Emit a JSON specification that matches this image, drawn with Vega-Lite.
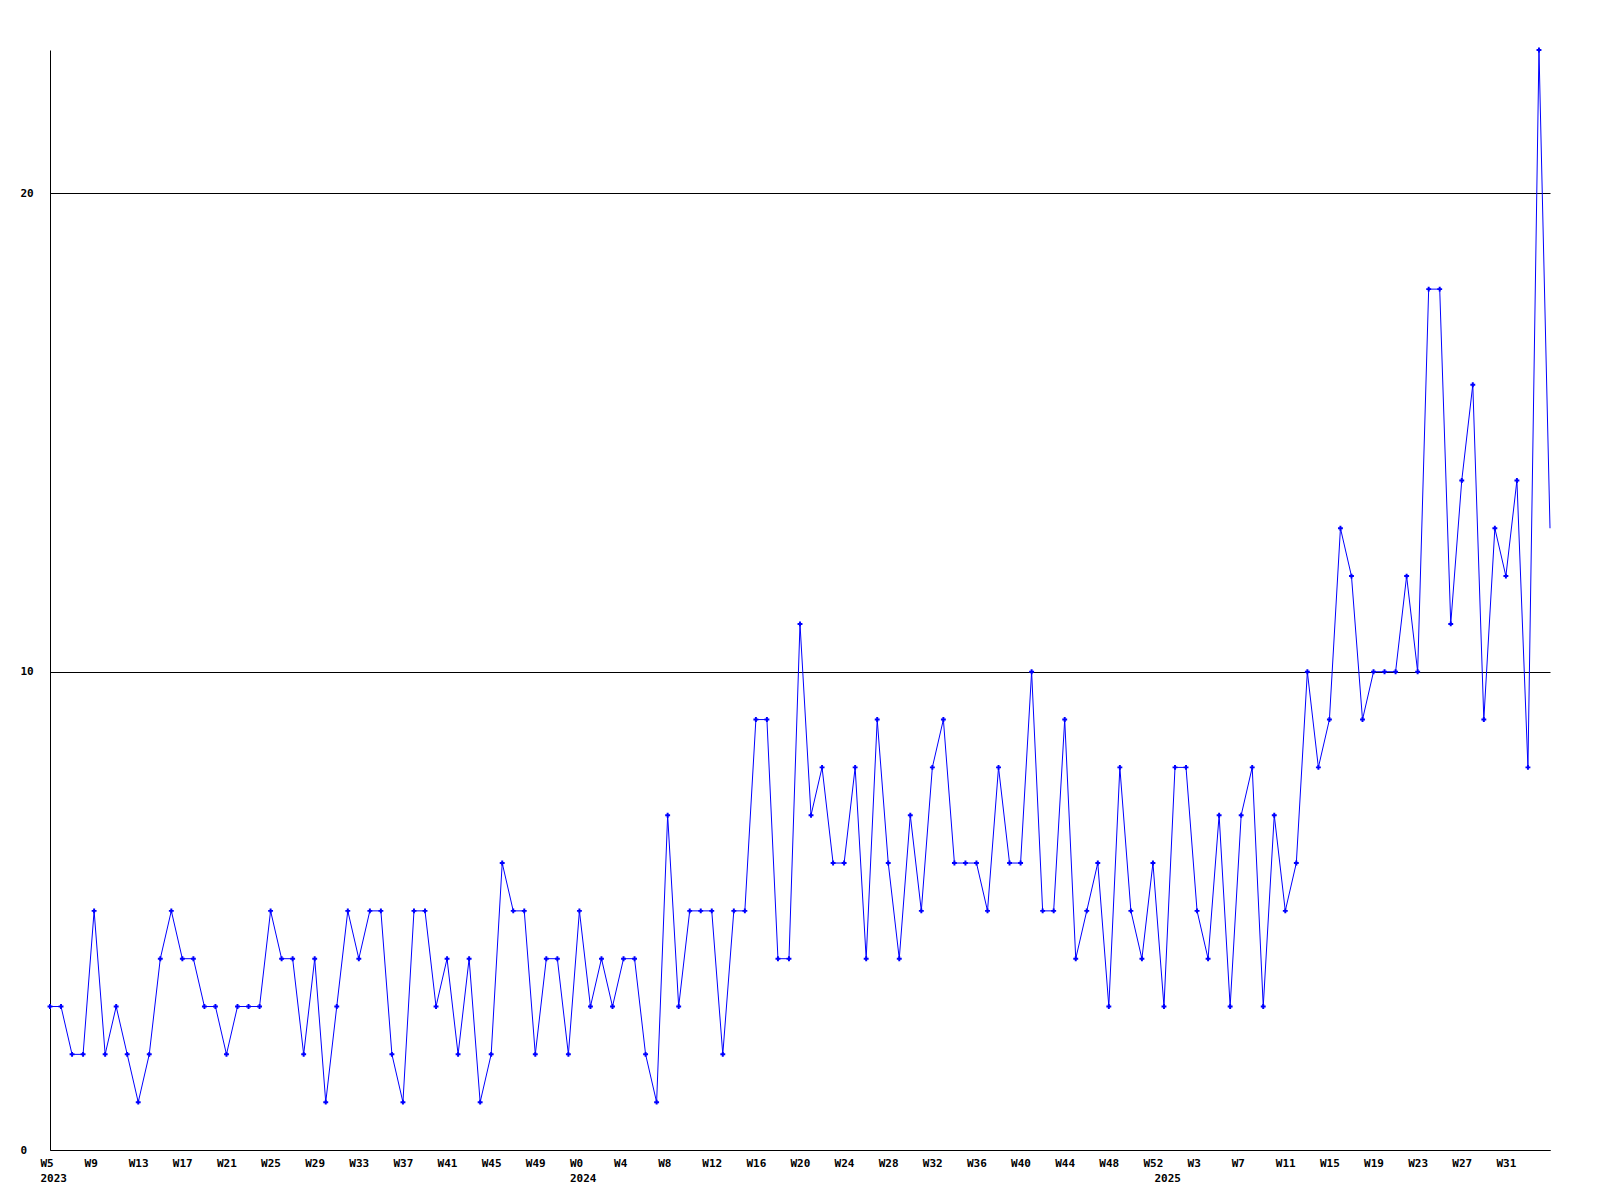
{
  "$schema": "https://vega.github.io/schema/vega-lite/v6.json",
  "width": 1500,
  "height": 1100,
  "autosize": {"type": "none"},
  "padding": {"left": 50, "top": 50, "right": 50, "bottom": 50},
  "background": "white",
  "config": {
    "view": {"stroke": null},
    "axis": {
      "labelFont": "DejaVu Sans Mono",
      "labelFontWeight": "bold",
      "labelFontSize": 11,
      "labelColor": "black",
      "domainColor": "black",
      "domainWidth": 1,
      "gridColor": "black",
      "gridOpacity": 1,
      "gridWidth": 1,
      "ticks": false,
      "tickSize": 0,
      "title": null
    }
  },
  "data": {
    "values": [
      {"week": "2023 W5", "count": 3}, {"week": "2023 W6", "count": 3}, {"week": "2023 W7", "count": 2}, {"week": "2023 W8", "count": 2},
      {"week": "2023 W9", "count": 5}, {"week": "2023 W10", "count": 2}, {"week": "2023 W11", "count": 3}, {"week": "2023 W12", "count": 2},
      {"week": "2023 W13", "count": 1}, {"week": "2023 W14", "count": 2}, {"week": "2023 W15", "count": 4}, {"week": "2023 W16", "count": 5},
      {"week": "2023 W17", "count": 4}, {"week": "2023 W18", "count": 4}, {"week": "2023 W19", "count": 3}, {"week": "2023 W20", "count": 3},
      {"week": "2023 W21", "count": 2}, {"week": "2023 W22", "count": 3}, {"week": "2023 W23", "count": 3}, {"week": "2023 W24", "count": 3},
      {"week": "2023 W25", "count": 5}, {"week": "2023 W26", "count": 4}, {"week": "2023 W27", "count": 4}, {"week": "2023 W28", "count": 2},
      {"week": "2023 W29", "count": 4}, {"week": "2023 W30", "count": 1}, {"week": "2023 W31", "count": 3}, {"week": "2023 W32", "count": 5},
      {"week": "2023 W33", "count": 4}, {"week": "2023 W34", "count": 5}, {"week": "2023 W35", "count": 5}, {"week": "2023 W36", "count": 2},
      {"week": "2023 W37", "count": 1}, {"week": "2023 W38", "count": 5}, {"week": "2023 W39", "count": 5}, {"week": "2023 W40", "count": 3},
      {"week": "2023 W41", "count": 4}, {"week": "2023 W42", "count": 2}, {"week": "2023 W43", "count": 4}, {"week": "2023 W44", "count": 1},
      {"week": "2023 W45", "count": 2}, {"week": "2023 W46", "count": 6}, {"week": "2023 W47", "count": 5}, {"week": "2023 W48", "count": 5},
      {"week": "2023 W49", "count": 2}, {"week": "2023 W50", "count": 4}, {"week": "2023 W51", "count": 4}, {"week": "2023 W52", "count": 2},
      {"week": "2024 W0", "count": 5}, {"week": "2024 W1", "count": 3}, {"week": "2024 W2", "count": 4}, {"week": "2024 W3", "count": 3},
      {"week": "2024 W4", "count": 4}, {"week": "2024 W5", "count": 4}, {"week": "2024 W6", "count": 2}, {"week": "2024 W7", "count": 1},
      {"week": "2024 W8", "count": 7}, {"week": "2024 W9", "count": 3}, {"week": "2024 W10", "count": 5}, {"week": "2024 W11", "count": 5},
      {"week": "2024 W12", "count": 5}, {"week": "2024 W13", "count": 2}, {"week": "2024 W14", "count": 5}, {"week": "2024 W15", "count": 5},
      {"week": "2024 W16", "count": 9}, {"week": "2024 W17", "count": 9}, {"week": "2024 W18", "count": 4}, {"week": "2024 W19", "count": 4},
      {"week": "2024 W20", "count": 11}, {"week": "2024 W21", "count": 7}, {"week": "2024 W22", "count": 8}, {"week": "2024 W23", "count": 6},
      {"week": "2024 W24", "count": 6}, {"week": "2024 W25", "count": 8}, {"week": "2024 W26", "count": 4}, {"week": "2024 W27", "count": 9},
      {"week": "2024 W28", "count": 6}, {"week": "2024 W29", "count": 4}, {"week": "2024 W30", "count": 7}, {"week": "2024 W31", "count": 5},
      {"week": "2024 W32", "count": 8}, {"week": "2024 W33", "count": 9}, {"week": "2024 W34", "count": 6}, {"week": "2024 W35", "count": 6},
      {"week": "2024 W36", "count": 6}, {"week": "2024 W37", "count": 5}, {"week": "2024 W38", "count": 8}, {"week": "2024 W39", "count": 6},
      {"week": "2024 W40", "count": 6}, {"week": "2024 W41", "count": 10}, {"week": "2024 W42", "count": 5}, {"week": "2024 W43", "count": 5},
      {"week": "2024 W44", "count": 9}, {"week": "2024 W45", "count": 4}, {"week": "2024 W46", "count": 5}, {"week": "2024 W47", "count": 6},
      {"week": "2024 W48", "count": 3}, {"week": "2024 W49", "count": 8}, {"week": "2024 W50", "count": 5}, {"week": "2024 W51", "count": 4},
      {"week": "2024 W52", "count": 6},
      {"week": "2025 W0", "count": 3}, {"week": "2025 W1", "count": 8}, {"week": "2025 W2", "count": 8}, {"week": "2025 W3", "count": 5},
      {"week": "2025 W4", "count": 4}, {"week": "2025 W5", "count": 7}, {"week": "2025 W6", "count": 3}, {"week": "2025 W7", "count": 7},
      {"week": "2025 W8", "count": 8}, {"week": "2025 W9", "count": 3}, {"week": "2025 W10", "count": 7}, {"week": "2025 W11", "count": 5},
      {"week": "2025 W12", "count": 6}, {"week": "2025 W13", "count": 10}, {"week": "2025 W14", "count": 8}, {"week": "2025 W15", "count": 9},
      {"week": "2025 W16", "count": 13}, {"week": "2025 W17", "count": 12}, {"week": "2025 W18", "count": 9}, {"week": "2025 W19", "count": 10},
      {"week": "2025 W20", "count": 10}, {"week": "2025 W21", "count": 10}, {"week": "2025 W22", "count": 12}, {"week": "2025 W23", "count": 10},
      {"week": "2025 W24", "count": 18}, {"week": "2025 W25", "count": 18}, {"week": "2025 W26", "count": 11}, {"week": "2025 W27", "count": 14},
      {"week": "2025 W28", "count": 16}, {"week": "2025 W29", "count": 9}, {"week": "2025 W30", "count": 13}, {"week": "2025 W31", "count": 12},
      {"week": "2025 W32", "count": 14}, {"week": "2025 W33", "count": 8}, {"week": "2025 W34", "count": 23}, {"week": "2025 W35", "count": 13}
    ]
  },
  "encoding": {
    "x": {
      "field": "week",
      "type": "ordinal",
      "sort": null,
      "scale": {"type": "point", "padding": 0},
      "axis": {
        "values": ["2023 W5", "2023 W9", "2023 W13", "2023 W17", "2023 W21", "2023 W25", "2023 W29", "2023 W33", "2023 W37", "2023 W41", "2023 W45", "2023 W49",
                   "2024 W0", "2024 W4", "2024 W8", "2024 W12", "2024 W16", "2024 W20", "2024 W24", "2024 W28", "2024 W32", "2024 W36", "2024 W40", "2024 W44", "2024 W48", "2024 W52",
                   "2025 W0", "2025 W3", "2025 W7", "2025 W11", "2025 W15", "2025 W19", "2025 W23", "2025 W27", "2025 W31"],
        "labelExpr": "datum.value == '2025 W0' ? [' ', '2025'] : (indexof(['2023 W5','2024 W0'], datum.value) >= 0 ? [split(datum.value, ' ')[1], split(datum.value, ' ')[0]] : split(datum.value, ' ')[1])",
        "labelAngle": 0,
        "labelAlign": "left",
        "labelBaseline": "top",
        "labelOffset": -10,
        "labelPadding": 7,
        "labelLineHeight": 15,
        "labelOverlap": false,
        "grid": false
      }
    },
    "y": {
      "field": "count",
      "type": "quantitative",
      "scale": {"domain": [0, 23], "nice": false, "zero": true},
      "axis": {
        "values": [0, 10, 20],
        "grid": true,
        "labelAlign": "left",
        "labelBaseline": "middle",
        "labelPadding": 30
      }
    }
  },
  "layer": [
    {"mark": {"type": "line", "color": "#0000ff", "strokeWidth": 1}},
    {
      "transform": [{"filter": "datum.week != '2025 W35'"}],
      "mark": {"type": "point", "shape": "cross", "filled": true, "color": "#0000ff", "size": 24, "opacity": 1}
    }
  ]
}
